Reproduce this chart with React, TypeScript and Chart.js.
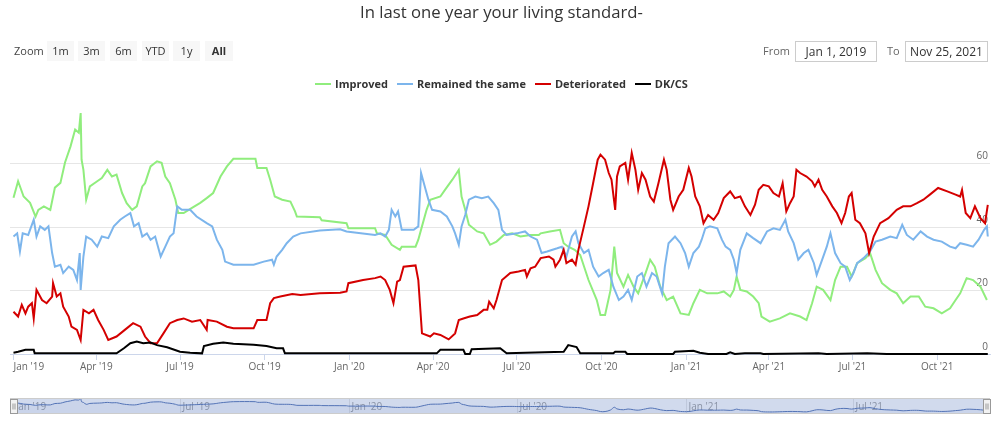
import React, { useEffect, useRef } from "react";
import { Chart, registerables } from "chart.js";

Chart.register(...registerables);

// x values are days since Jan 1, 2019
const xTickDays = [0, 90, 181, 273, 365, 456, 547, 639, 731, 821, 912, 1004];
const xTickLabels = ["Jan '19", "Apr '19", "Jul '19", "Oct '19", "Jan '20", "Apr '20", "Jul '20", "Oct '20", "Jan '21", "Apr '21", "Jul '21", "Oct '21"];
const navTickDays = [0, 181, 365, 547, 731, 912];
const navTickLabels = ["Jan '19", "Jul '19", "Jan '20", "Jul '20", "Jan '21", "Jul '21"];
const yTicks = [0, 20, 40, 60];

const seriesNames = ["Improved", "Remained the same", "Deteriorated", "DK/CS"];
const seriesColors = ["#90ed7d", "#7cb5ec", "#d40000", "#000000"];
const rangeButtons = ["1m", "3m", "6m", "YTD", "1y", "All"];
const fromDate = "Jan 1, 2019";
const toDate = "Nov 25, 2021";

const improvedData: [number, number][] = [
  [0, 49.2], [5, 54.4], [11, 49.6], [18, 47.6], [24, 43.3], [27, 45.4], [33, 46.5], [40, 45.4], [45, 52.4], [51, 53.9],
  [56, 60.3], [62, 65.4], [67, 70.7], [71, 69.7], [73, 75.9], [74, 61.2], [76, 58], [79, 48.6], [83, 52.8], [91, 54.4],
  [96, 55.4], [102, 58], [107, 55.9], [112, 56.5], [118, 50.7], [123, 47.5], [129, 45.4], [134, 46.5], [140, 52.8], [143, 53.8],
  [149, 59.1], [156, 60.7], [161, 60.2], [165, 55.9], [170, 53.8], [176, 48.6], [179, 44.4], [185, 44.4], [194, 46], [203, 47.6],
  [210, 49.1], [217, 50.7], [225, 55.9], [232, 59.1], [239, 61.5], [263, 61.5], [265, 58.6], [275, 58.6], [279, 54.9], [284, 49.6],
  [292, 48.6], [301, 48], [306, 44.9], [308, 43.3], [333, 43.1], [335, 42.1], [362, 41.2], [364, 39.6], [393, 39.6], [395, 38],
  [404, 37.5], [411, 34.4], [420, 32.8], [422, 33.8], [437, 33.8], [440, 36], [444, 40.2], [449, 45.4], [453, 48.6], [464, 49.6],
  [469, 51.7], [477, 54.9], [484, 58], [487, 49.6], [491, 45.4], [495, 40.7], [504, 38.6], [511, 38], [518, 34.4], [525, 35.4],
  [533, 37.5], [542, 38], [551, 37], [562, 37.5], [571, 37.5], [573, 38], [583, 38.6], [594, 39.1], [598, 34.9], [603, 33.8],
  [610, 32.8], [616, 31.2], [625, 23.3], [634, 17], [638, 12.3], [643, 12.3], [649, 20.2], [653, 33.8], [656, 25.5], [663, 21.2],
  [668, 24.9], [674, 21.2], [679, 19.1], [687, 25.5], [692, 29.7], [697, 27.5], [703, 21.2], [710, 17], [717, 18.1], [725, 12.8],
  [734, 12.3], [739, 16], [746, 20.2], [754, 19.1], [765, 19.1], [772, 19.7], [779, 18.1], [783, 20.2], [786, 24.4], [790, 20.2],
  [797, 19.7], [804, 18.1], [810, 16], [813, 11.8], [822, 10.2], [833, 11.2], [844, 12.8], [855, 11.8], [862, 10.7], [868, 16],
  [873, 21.2], [880, 20.2], [888, 17], [893, 23.3], [899, 27.5], [906, 27.5], [911, 24.4], [917, 28.6], [926, 30.2], [931, 31.8],
  [937, 26.5], [944, 22.3], [953, 20.2], [960, 19.1], [967, 16], [975, 18.1], [984, 18.1], [991, 14.9], [1000, 14.4], [1009, 12.8],
  [1018, 14.4], [1024, 17], [1029, 19.1], [1036, 23.9], [1043, 23.3], [1051, 21.2], [1058, 17]
];

const remainedData: [number, number][] = [
  [0, 37], [4, 38], [7, 32.3], [10, 38], [16, 37.5], [22, 42.3], [25, 37], [29, 40.2], [34, 39.1], [38, 40.2],
  [42, 31.8], [45, 27.5], [51, 28.1], [54, 25.5], [60, 27.5], [65, 26.5], [69, 23.3], [72, 31.8], [73, 20.2], [76, 30.7],
  [79, 37], [85, 36], [91, 33.8], [96, 37], [103, 36.5], [109, 40.2], [116, 42.3], [121, 43.3], [127, 44.4], [131, 40.2],
  [136, 41.2], [140, 37], [145, 38], [149, 36], [154, 37], [160, 30.7], [165, 33.8], [170, 37], [174, 38], [178, 46.5],
  [183, 45.4], [192, 45.4], [199, 43.3], [210, 41.2], [216, 40.2], [221, 36], [227, 32.8], [230, 29.1], [239, 28.1], [261, 28.1],
  [272, 29.1], [281, 29.7], [283, 28.1], [286, 30.7], [292, 32.8], [297, 34.9], [304, 37], [312, 38], [333, 38.9], [355, 39.3],
  [362, 38.6], [393, 37.5], [399, 38], [404, 37], [408, 39.1], [411, 45.4], [415, 43.3], [418, 44.9], [422, 39.1], [435, 39.1],
  [440, 40.2], [443, 57], [448, 51.7], [451, 48.6], [455, 45.4], [464, 44.9], [471, 43.3], [477, 40.2], [480, 38], [484, 34.4],
  [487, 40.2], [491, 43.8], [495, 48.6], [502, 49.6], [509, 49.1], [516, 49.6], [522, 47.5], [527, 45.4], [531, 39.1], [536, 37.5],
  [547, 38], [556, 38.6], [562, 37], [569, 36], [574, 31.8], [580, 32.3], [591, 33.3], [596, 33.8], [601, 30.7], [607, 37],
  [611, 38.6], [614, 34.9], [620, 31.8], [625, 32.8], [630, 27.5], [636, 24.4], [641, 25.5], [647, 26.5], [652, 21.2], [658, 17],
  [663, 18.1], [668, 20.2], [672, 17], [678, 24.4], [683, 25.5], [688, 21.2], [694, 25.5], [699, 24.4], [705, 19.1], [708, 27.5],
  [712, 34.9], [719, 37], [725, 34.9], [730, 31.8], [734, 27.5], [739, 31.8], [745, 33.8], [748, 36], [752, 39.6], [757, 40.2],
  [765, 39.6], [770, 36], [774, 33.8], [779, 32.8], [783, 29.7], [786, 25.5], [790, 32.8], [797, 38], [804, 36.5], [812, 34.9],
  [819, 38.6], [826, 39.6], [833, 39.1], [839, 42.3], [842, 38.6], [848, 34.9], [853, 29.7], [859, 31.8], [864, 32.8], [870, 28.6],
  [873, 24.9], [879, 29.7], [884, 33.8], [888, 38], [893, 31.8], [899, 28.6], [904, 27.5], [909, 23.3], [913, 25.5], [917, 28.6],
  [924, 30.2], [931, 32.3], [937, 35.4], [944, 36], [953, 37], [960, 36.5], [966, 40.7], [971, 37.5], [978, 36], [986, 38.6],
  [993, 37], [1000, 36], [1009, 35.4], [1018, 33.8], [1024, 33.3], [1029, 34.9], [1036, 34.4], [1043, 33.8], [1049, 36], [1055, 39.1],
  [1058, 40.2], [1059, 37]
];

const deterioratedData: [number, number][] = [
  [0, 13.3], [5, 11.8], [9, 15.5], [13, 12.8], [16, 14.9], [20, 16], [22, 11.2], [25, 20.2], [31, 17], [36, 16],
  [42, 18.1], [43, 22.3], [47, 18.1], [51, 19.1], [54, 14.9], [60, 11.8], [63, 8.6], [69, 7.6], [73, 4.4], [76, 13.9],
  [82, 12.8], [87, 13.9], [92, 10.7], [98, 7.6], [103, 4.4], [112, 5.5], [121, 7.6], [130, 9.7], [138, 8.6], [143, 5.5],
  [149, 3.4], [156, 3.4], [163, 6.5], [170, 9.7], [178, 10.7], [185, 11.2], [194, 10.2], [203, 10.7], [210, 7.6], [211, 10.7],
  [221, 10.2], [232, 8.6], [239, 8.1], [261, 8.1], [265, 10.7], [275, 10.7], [279, 16], [283, 17.6], [290, 18.1], [303, 18.9],
  [312, 18.6], [333, 19.1], [355, 19.3], [362, 19.7], [364, 22.3], [380, 23.3], [393, 23.9], [399, 24.4], [404, 23.3], [409, 20.2],
  [413, 16], [417, 22.8], [420, 23.3], [424, 27.5], [437, 27.9], [440, 23.3], [444, 6.5], [453, 5.5], [457, 6.5], [464, 6],
  [473, 4.6], [480, 6.5], [484, 10.7], [489, 11.2], [496, 11.8], [504, 12.3], [511, 13.9], [515, 13.9], [517, 16.5], [522, 14.4],
  [525, 17], [531, 23.3], [540, 25.5], [549, 26], [556, 26.5], [558, 24.4], [562, 27], [567, 27.5], [573, 30.2], [582, 30.7],
  [587, 29.7], [589, 27.5], [594, 29.7], [598, 32.8], [601, 28.6], [607, 29.7], [611, 28.1], [614, 32.8], [620, 40.2], [625, 46.5],
  [630, 53.8], [635, 61.2], [638, 62.8], [643, 61.2], [647, 57], [650, 54.9], [654, 45.4], [656, 55.9], [659, 59.1], [665, 60.2],
  [668, 54.9], [672, 63.3], [676, 58], [679, 51.7], [683, 57], [687, 54.9], [692, 49.6], [696, 48], [701, 53.8], [707, 61.2],
  [710, 58], [714, 48.6], [717, 45.4], [723, 49.6], [728, 51.7], [734, 58.6], [737, 55.9], [741, 49.6], [746, 46.5], [750, 41.2],
  [755, 43.8], [761, 42.3], [766, 44.4], [772, 49.1], [779, 51.2], [784, 49.1], [790, 49.6], [795, 46.5], [801, 43.8], [806, 47],
  [810, 51.7], [815, 53.3], [821, 52.8], [826, 50.7], [832, 49.6], [836, 53.8], [840, 44.9], [844, 47.5], [848, 49.6], [851, 58],
  [855, 57], [862, 55.9], [868, 54.4], [871, 52.8], [875, 54.9], [879, 51.7], [884, 49.6], [890, 46.5], [895, 44.4], [900, 41.2],
  [904, 44.4], [908, 49.6], [911, 50.7], [915, 42.3], [920, 41.2], [926, 38], [930, 31.8], [935, 37], [942, 41.2], [951, 42.8],
  [960, 45.4], [967, 46.5], [975, 46.5], [982, 47.5], [989, 48.6], [996, 50.2], [1005, 52.3], [1015, 51.2], [1024, 50.2], [1029, 49.6],
  [1031, 51.7], [1035, 44.4], [1040, 42.8], [1045, 46.5], [1051, 42.8], [1056, 41.2], [1059, 47]
];

const dkcsData: [number, number][] = [
  [0, 0.4], [5, 0.7], [13, 1.3], [22, 1.3], [23, 0.2], [112, 0.2], [120, 1.8], [127, 3.4], [134, 3.9], [141, 3.4],
  [149, 3.6], [156, 2.8], [167, 2.1], [181, 0.7], [192, 0.4], [205, 0.2], [207, 2.5], [217, 3.2], [228, 3.6], [239, 3.2],
  [261, 2.9], [275, 2.5], [286, 1.8], [293, 1.8], [295, 0.2], [460, 0.2], [464, 1.3], [489, 1.3], [491, 0], [496, 0],
  [498, 1.5], [529, 1.8], [536, 0.2], [598, 0.7], [603, 2.8], [612, 2.2], [616, 0.2], [652, 0.2], [654, 0.7], [665, 0.7],
  [667, 0], [717, 0], [719, 0.7], [739, 1], [746, 0.4], [755, 0], [775, 0], [779, 0.5], [784, 0], [795, 0.2],
  [812, 0.2], [815, 0], [875, 0.2], [884, 0], [928, 0.2], [949, 0], [1059, 0]
];

const allSeries = [improvedData, remainedData, deterioratedData, dkcsData];

const X_MIN = -3.8;
const X_MAX = 1061.4;
const FONT = '"Open Sans", "DejaVu Sans", sans-serif';

const xLabelPlugin = {
  id: "xLabels",
  afterDraw(chart: any) {
    const { ctx, chartArea } = chart;
    const xs = chart.scales.x;
    ctx.save();
    ctx.font = `10px ${FONT}`;
    ctx.fillStyle = "#666666";
    ctx.textBaseline = "middle";
    ctx.textAlign = "left";
    xTickDays.forEach((d, i) => {
      const px = xs.getPixelForValue(d);
      const label = xTickLabels[i];
      const w = ctx.measureText(label).width;
      let x = px - w / 2;
      if (x < chartArea.left) x = px;
      ctx.fillText(label, x, chartArea.bottom + 13);
    });
    ctx.restore();
  },
};

const navPlugin = {
  id: "navigator",
  beforeDatasetsDraw(chart: any) {
    const { ctx, chartArea } = chart;
    const xs = chart.scales.x;
    ctx.save();
    ctx.strokeStyle = "#e6e6e6";
    ctx.lineWidth = 1;
    ctx.font = `10px ${FONT}`;
    ctx.fillStyle = "#999999";
    ctx.textBaseline = "middle";
    ctx.textAlign = "left";
    navTickDays.forEach((d, i) => {
      const px = Math.round(xs.getPixelForValue(d)) + 0.5;
      ctx.beginPath();
      ctx.moveTo(px, chartArea.top);
      ctx.lineTo(px, chartArea.bottom);
      ctx.stroke();
      ctx.fillText(navTickLabels[i], px + 2, (chartArea.top + chartArea.bottom) / 2 + 1);
    });
    ctx.restore();
  },
  afterDatasetsDraw(chart: any) {
    const { ctx, chartArea } = chart;
    const { left, right, top, bottom } = chartArea;
    ctx.save();
    ctx.fillStyle = "rgba(102,133,194,0.3)";
    ctx.fillRect(left, top, right - left, bottom - top);
    ctx.strokeStyle = "#cccccc";
    ctx.lineWidth = 1;
    ctx.strokeRect(left + 0.5, top + 0.5, right - left - 1, bottom - top - 1);
    const mid = (top + bottom) / 2;
    const drawHandle = (cx: number) => {
      const hx = Math.round(cx - 3.5) + 0.5;
      const hy = Math.round(mid - 7.5) + 0.5;
      ctx.fillStyle = "#f2f2f2";
      ctx.strokeStyle = "#999999";
      ctx.fillRect(hx, hy, 7, 14);
      ctx.strokeRect(hx, hy, 7, 14);
      ctx.beginPath();
      ctx.moveTo(hx + 2.5, hy + 4);
      ctx.lineTo(hx + 2.5, hy + 10);
      ctx.moveTo(hx + 4.5, hy + 4);
      ctx.lineTo(hx + 4.5, hy + 10);
      ctx.stroke();
    };
    drawHandle(left + 3);
    drawHandle(right - 4);
    ctx.restore();
  },
};

export default function App() {
  const mainRef = useRef<HTMLCanvasElement>(null);
  const navRef = useRef<HTMLCanvasElement>(null);

  useEffect(() => {
    if (!mainRef.current || !navRef.current) return;
    const main = new Chart(mainRef.current, {
      type: "line",
      data: {
        datasets: allSeries.map((d, i) => ({
          label: seriesNames[i],
          data: d,
          borderColor: seriesColors[i],
          backgroundColor: seriesColors[i],
          borderWidth: 2,
          pointRadius: 0,
          tension: 0,
          fill: false,
          clip: 6,
          order: 3 - i,
        })),
      },
      options: {
        animation: false,
        responsive: false,
        maintainAspectRatio: false,
        layout: { padding: { left: 10, right: 13, top: 100, bottom: 1 } },
        plugins: { legend: { display: false }, tooltip: { enabled: false }, title: { display: false } },
        scales: {
          x: {
            type: "linear",
            min: X_MIN,
            max: X_MAX,
            afterBuildTicks: (s: any) => {
              s.ticks = xTickDays.map((v) => ({ value: v }));
            },
            afterFit: (s: any) => {
              s.height = 25;
            },
            ticks: { display: false },
            grid: { display: true, drawOnChartArea: false, drawTicks: true, tickLength: 6, color: "#ccd6eb" },
            border: { display: true, color: "#ccd6eb", width: 1 },
          },
          y: {
            position: "right",
            min: 0,
            max: 80,
            afterBuildTicks: (s: any) => {
              s.ticks = yTicks.map((v) => ({ value: v }));
            },
            afterFit: (s: any) => {
              s.width = 0;
            },
            ticks: {
              mirror: true,
              padding: -2,
              labelOffset: -7,
              color: "#666666",
              font: { family: FONT, size: 10 },
            },
            grid: { color: "#e6e6e6", drawTicks: false },
            border: { display: false },
          },
        },
      },
      plugins: [xLabelPlugin],
    } as any);

    const nav = new Chart(navRef.current, {
      type: "line",
      data: {
        datasets: [
          {
            label: seriesNames[0],
            data: improvedData,
            borderColor: "#4a6bb0",
            backgroundColor: "rgba(51,92,173,0.05)",
            borderWidth: 1,
            pointRadius: 0,
            tension: 0.4,
            fill: "origin",
          },
        ],
      },
      options: {
        animation: false,
        responsive: false,
        maintainAspectRatio: false,
        layout: { padding: { left: 10, right: 13, top: 2, bottom: 6 } },
        plugins: { legend: { display: false }, tooltip: { enabled: false } },
        scales: {
          x: { type: "linear", min: X_MIN, max: X_MAX, display: false },
          y: { min: 0, max: 80, display: false },
        },
      },
      plugins: [navPlugin],
    } as any);

    return () => {
      main.destroy();
      nav.destroy();
    };
  }, []);

  const btnLefts = [47, 78, 110, 142, 173, 205];

  return (
    <div style={{ position: "absolute", left: 0, top: 0, width: 1003, height: 427, background: "#ffffff", fontFamily: FONT, overflow: "hidden" }}>
      <canvas ref={mainRef} width={1003} height={380} style={{ position: "absolute", left: 0, top: 0, width: 1003, height: 380 }} />
      <canvas ref={navRef} width={1003} height={24} style={{ position: "absolute", left: 0, top: 396, width: 1003, height: 24 }} />
      <div style={{ position: "absolute", left: 0, top: 1, width: 1003, textAlign: "center", fontSize: 16.7, color: "#333333", lineHeight: "22px" }}>
        In last one year your living standard-
      </div>
      <div style={{ position: "absolute", left: 14, top: 41, height: 20, lineHeight: "20px", fontSize: 11, color: "#444444" }}>Zoom</div>
      {rangeButtons.map((b, i) => (
        <div
          key={b}
          style={{
            position: "absolute",
            left: btnLefts[i],
            top: 41,
            width: i === 5 ? 28 : 27,
            height: 20,
            lineHeight: "20px",
            background: "#f7f7f7",
            textAlign: "center",
            fontSize: 11,
            color: "#333333",
            fontWeight: i === 5 ? 700 : 400,
          }}
        >
          {b}
        </div>
      ))}
      <div style={{ position: "absolute", left: 763, top: 41, height: 20, lineHeight: "20px", fontSize: 11, color: "#666666" }}>From</div>
      <div style={{ position: "absolute", left: 795, top: 41, width: 80, height: 19, lineHeight: "19px", border: "1px solid #cccccc", textAlign: "center", fontSize: 12, color: "#333333" }}>{fromDate}</div>
      <div style={{ position: "absolute", left: 887, top: 41, height: 20, lineHeight: "20px", fontSize: 11, color: "#666666" }}>To</div>
      <div style={{ position: "absolute", left: 905, top: 41, width: 81, height: 19, lineHeight: "19px", border: "1px solid #cccccc", textAlign: "center", fontSize: 12, color: "#333333" }}>{toDate}</div>
      <div style={{ position: "absolute", left: 0, top: 76, width: 1003, height: 16, display: "flex", justifyContent: "center", alignItems: "center", gap: 9 }}>
        {seriesNames.map((n, i) => (
          <div key={n} style={{ display: "flex", alignItems: "center" }}>
            <span style={{ display: "inline-block", width: 16, height: 2, background: seriesColors[i], marginRight: 4 }} />
            <span style={{ fontSize: 11, fontWeight: 700, color: "#333333", lineHeight: "16px" }}>{n}</span>
          </div>
        ))}
      </div>
    </div>
  );
}
